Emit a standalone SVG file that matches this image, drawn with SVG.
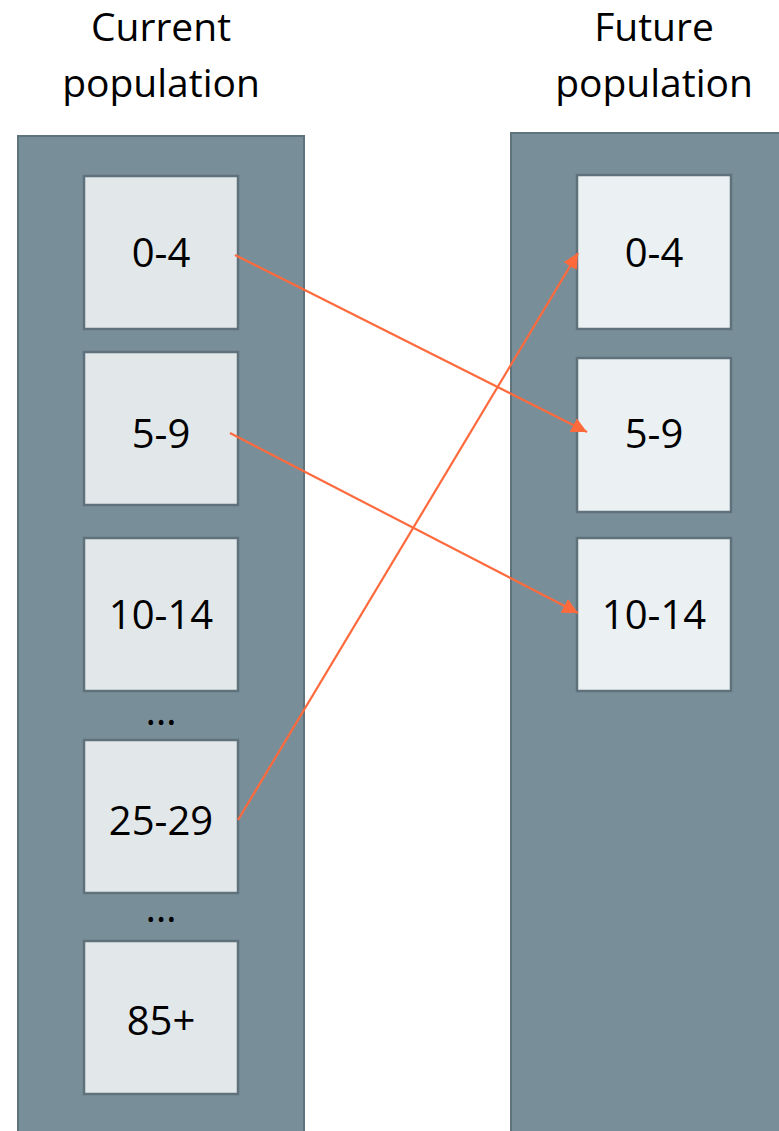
<svg xmlns="http://www.w3.org/2000/svg" width="779" height="1131" viewBox="0 0 779 1131">
<style>
.col{fill:#788f9a;stroke:#5f737d;stroke-width:2}
.lb{fill:#e2e7ea;stroke:#5f727c;stroke-width:2.5}
.rb{fill:#ebf0f3;stroke:#5f727c;stroke-width:2.5}
text{font-family:"Open Sans","Noto Sans","Liberation Sans",sans-serif;font-size:40px;fill:#000;text-anchor:middle}
.hd{font-size:39px}
.conn{stroke:#ff6a3d;stroke-width:2.2;fill:none;marker-end:url(#ah)}
</style>
<defs>
<marker id="ah" viewBox="0 0 10 10" refX="10" refY="5" markerWidth="7" markerHeight="7" orient="auto" markerUnits="strokeWidth">
<path d="M0,0 L10,5 L0,10 z" fill="#ff6a3d"/>
</marker>
</defs>
<g id="header-current"><text class="hd" x="161" y="41">Current</text><text class="hd" x="161" y="97">population</text></g>
<g id="header-future"><text class="hd" x="654" y="41">Future</text><text class="hd" x="654" y="97">population</text></g>
<g id="current-col"><rect class="col" x="18" y="136" width="286" height="1010"/></g>
<g id="future-col"><rect class="col" x="511" y="133" width="290" height="1010"/></g>
<g id="c-0-4"><rect class="lb" x="84" y="176" width="154" height="153"/><text x="161" y="267">0-4</text></g>
<g id="c-5-9"><rect class="lb" x="84" y="352" width="154" height="153"/><text x="161" y="448">5-9</text></g>
<g id="c-10-14"><rect class="lb" x="84" y="538" width="154" height="153"/><text x="161" y="629">10-14</text></g>
<g id="c-dots1"><text x="161" y="725">…</text></g>
<g id="c-25-29"><rect class="lb" x="84" y="740" width="154" height="153"/><text x="161" y="835">25-29</text></g>
<g id="c-dots2"><text x="161" y="922">…</text></g>
<g id="c-85"><rect class="lb" x="84" y="941" width="154" height="153"/><text x="161" y="1035">85+</text></g>
<g id="f-0-4"><rect class="rb" x="577" y="175" width="154" height="154"/><text x="654" y="267">0-4</text></g>
<g id="f-5-9"><rect class="rb" x="577" y="358" width="154" height="154"/><text x="654" y="448">5-9</text></g>
<g id="f-10-14"><rect class="rb" x="577" y="538" width="154" height="153"/><text x="654" y="629">10-14</text></g>
<g id="connectors">
<line class="conn" x1="235" y1="255" x2="587" y2="432"/>
<line class="conn" x1="230" y1="433" x2="578" y2="613"/>
<line class="conn" x1="238" y1="820" x2="578" y2="253"/>
</g>
</svg>
